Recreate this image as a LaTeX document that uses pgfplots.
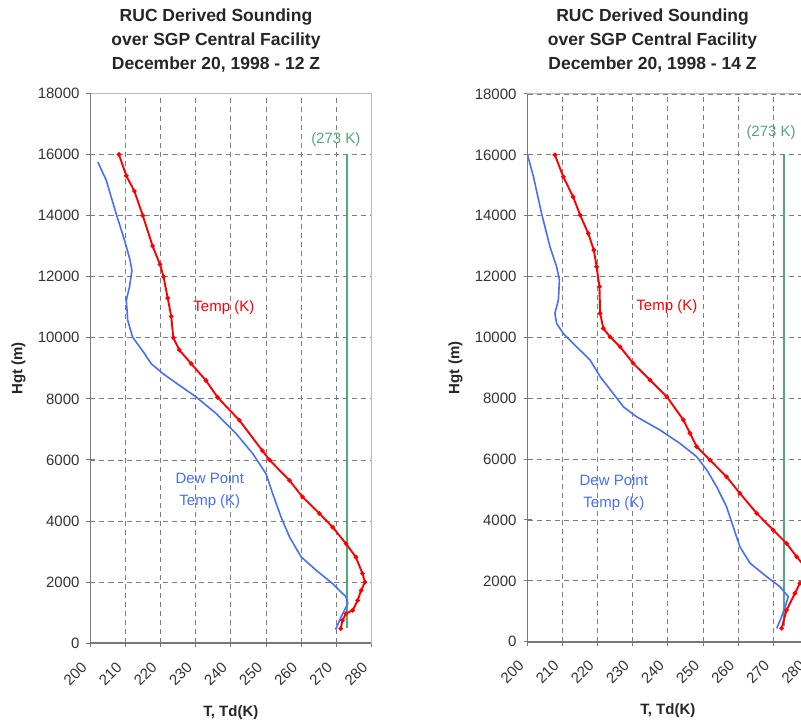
\documentclass[border=0pt]{standalone}
\usepackage{pgfplots}
\pgfplotsset{compat=1.18}
\usepackage{fontspec}
\setmainfont{Liberation Sans}
\definecolor{tred}{RGB}{255,0,0}
\definecolor{tblue}{RGB}{70,110,255}
\definecolor{tgreen}{RGB}{80,170,120}
\definecolor{gridc}{RGB}{125,125,125}
\definecolor{frame}{RGB}{120,120,120}

\pgfplotstableread{
T h
208.1 16000
210.2 15300
212.5 14800
214.9 14000
217.7 13000
219.8 12400
220.8 12000
222.0 11300
223.0 10700
223.6 10000
225.3 9600
228.7 9150
232.9 8600
236.2 8050
242.4 7300
249.0 6300
251.0 6000
256.7 5330
260.4 4790
265.2 4250
269.0 3800
272.8 3260
275.6 2820
277.5 2280
278.2 2000
277.1 1730
276.1 1400
274.7 1080
272.8 970
271.8 750
271.3 480
}\lefttemp

\pgfplotstableread{
T h
202.1 15750
204.5 15150
207.3 14060
209.7 13190
211.3 12530
211.8 12200
211.1 11660
210.2 11230
210.6 10570
212.0 10020
215.4 9480
217.3 9150
220.6 8830
224.0 8550
230.1 8060
235.8 7520
241.5 6860
246.2 6210
250.0 5550
251.9 4900
254.3 4130
256.7 3480
260.0 2830
264.3 2390
269.0 1950
272.8 1520
273.3 1300
271.4 860
269.8 450
}\leftdew

\pgfplotstableread{
T h
207.8 16000
210.2 15280
213.0 14620
215.0 14020
217.3 13420
218.9 12870
219.7 12320
220.5 11670
220.7 10790
221.6 10300
223.5 10020
226.4 9690
230.1 9150
234.9 8600
239.7 8050
244.4 7290
246.3 6850
248.2 6410
252.0 5970
256.7 5420
260.5 4880
265.3 4220
270.0 3670
273.8 3230
276.7 2790
279.5 2400
280.0 2150
277.6 1920
276.2 1590
273.8 1040
272.4 440
}\righttemp

\pgfplotstableread{
T h
200.0 16000
201.7 15280
204.0 14080
206.4 12980
208.3 12320
209.1 11890
208.8 11230
207.8 10790
208.3 10460
210.2 10130
214.0 9690
217.8 9260
220.7 8710
224.4 8160
227.3 7720
231.1 7390
237.7 6960
243.4 6520
248.2 6080
251.1 5640
253.9 5090
256.7 4440
258.6 3780
260.5 3120
263.4 2580
268.1 2140
271.9 1810
274.3 1480
273.4 1150
272.4 820
271.0 440
}\rightdew

\pgfplotsset{sounding/.style={
  scale only axis, width=280.8pt, anchor=south west,
  xmin=200, xmax=280, ymin=0, ymax=18000,
  xtick={200,210,...,280}, ytick={0,2000,...,18000},
  tick pos=left,
  grid=major,
  major grid style={dash pattern=on 5pt off 4pt, gridc, line width=0.9pt},
  axis line style={gray!55, line width=1pt},
  tick style={frame, line width=1pt}, tick align=center, major tick length=8pt,
  ticklabel style={font=\fontsize{15}{15}\selectfont, text=black!80},
  /pgf/number format/assume math mode=true,
  /pgf/number format/set thousands separator={},
  scaled y ticks=false,
  xticklabel style={xshift=-4pt, yshift=-15pt, rotate=45, anchor=east},
  yticklabel style={xshift=-3.5pt},
  xlabel={T, Td(K)}, ylabel={Hgt (m)},
  label style={font=\bfseries\fontsize{15}{15}\selectfont, text=black!85},
  xlabel style={at={(axis description cs:0.5,-0.1255)}, anchor=center},
  ylabel style={at={(axis description cs:-0.256,0.5)}, anchor=center},
  after end axis/.code={\draw[frame, line width=1.8pt] (rel axis cs:0,1) -- (rel axis cs:0,0) -- (rel axis cs:1,0);},
}}

\begin{document}
\begin{tikzpicture}
\useasboundingbox (0pt,0pt) rectangle (801pt,723pt);

\node[align=center, font=\bfseries\fontsize{17.5}{24}\selectfont, text=black!85] at (216pt,682pt) {RUC Derived Sounding\\over SGP Central Facility\\December 20, 1998 - 12 Z};
\node[align=center, font=\bfseries\fontsize{17.5}{24}\selectfont, text=black!85] at (652.5pt,682pt) {RUC Derived Sounding\\over SGP Central Facility\\December 20, 1998 - 14 Z};

\begin{axis}[sounding, height=550pt, at={(90.5pt,79.7pt)}]
\addplot[tgreen, line width=1.6pt] coordinates {(273,500) (273,16000)};
\addplot[tblue, line width=1.6pt] table[x=T,y=h] {\leftdew};
\addplot[tred, line width=1.9pt, mark=*, mark size=1.2pt] table[x=T,y=h] {\lefttemp};
\node[tgreen, font=\fontsize{15}{15}\selectfont] at (axis cs:269.9,16470) {(273 K)};
\node[tred, font=\fontsize{15}{15}\selectfont] at (axis cs:238,10970) {Temp (K)};
\node[tblue, align=center, font=\fontsize{15}{22}\selectfont] at (axis cs:234,4990) {Dew Point\\Temp (K)};
\end{axis}

\begin{axis}[sounding, height=547.7pt, at={(527.5pt,81.3pt)}]
\addplot[tgreen, line width=1.6pt] coordinates {(273,500) (273,16000)};
\addplot[tblue, line width=1.6pt] table[x=T,y=h] {\rightdew};
\addplot[tred, line width=1.9pt, mark=*, mark size=1.2pt] table[x=T,y=h] {\righttemp};
\node[tgreen, font=\fontsize{15}{15}\selectfont] at (axis cs:269.4,16720) {(273 K)};
\node[tred, font=\fontsize{15}{15}\selectfont] at (axis cs:239.7,11000) {Temp (K)};
\node[tblue, align=center, font=\fontsize{15}{22}\selectfont] at (axis cs:224.6,4890) {Dew Point\\Temp (K)};
\end{axis}
\end{tikzpicture}
\end{document}
